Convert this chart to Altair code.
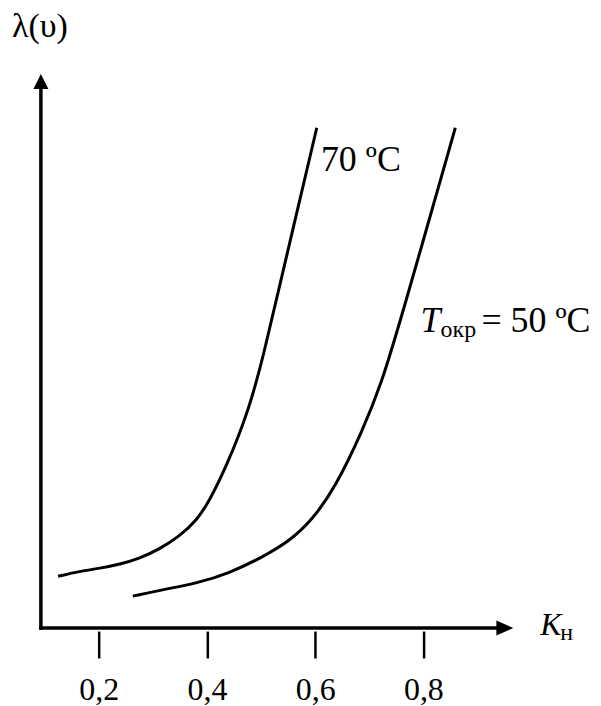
import altair as alt
import pandas as pd

# ---- data ----
# curve for T_окр = 70 ºC
k_70 = [0.125, 0.165, 0.202, 0.239, 0.276, 0.312, 0.349, 0.381, 0.404, 0.436, 0.478, 0.506, 0.528, 0.603]
lam_70 = [0.935, 1.025, 1.079, 1.151, 1.259, 1.421, 1.655, 1.942, 2.284, 2.914, 3.939, 4.982, 5.917, 9.029]
# curve for T_окр = 50 ºC
k_50 = [0.263, 0.322, 0.381, 0.441, 0.502, 0.552, 0.594, 0.638, 0.686, 0.723, 0.758, 0.859]
lam_50 = [0.576, 0.701, 0.809, 0.989, 1.277, 1.565, 1.942, 2.554, 3.525, 4.424, 5.558, 9.029]
x_ticks = [0.2, 0.4, 0.6, 0.8]

# scale extents (data units)
X_MIN, X_MAX = 0.0932, 0.9661
Y_MIN, Y_MAX = 0.0, 10.0

FONT = "Liberation Serif"

curves = pd.concat([
    pd.DataFrame({"k": k_70, "lam": lam_70, "series": "70"}),
    pd.DataFrame({"k": k_50, "lam": lam_50, "series": "50"}),
])

xs = alt.Scale(domain=[X_MIN, X_MAX], nice=False, zero=False)
ys = alt.Scale(domain=[Y_MIN, Y_MAX], nice=False, zero=False)

xaxis = alt.Axis(
    values=x_ticks, domain=False, grid=False, title=None,
    ticks=True, tickSize=27, tickWidth=2.5, tickColor="black", offset=3,
    labelExpr="replace(format(datum.value, '.1f'), '.', ',')",
    labelFont=FONT, labelFontSize=32, labelColor="black",
    labelBaseline="alphabetic", labelPadding=42, labelAlign="center",
    labelFlush=False, labelOverlap=False,
)


def X(field):
    return alt.X(field, type="quantitative", scale=xs, axis=xaxis)


def Y(field):
    return alt.Y(field, type="quantitative", scale=ys, axis=None)


lines = alt.Chart(curves).mark_line(
    color="black", strokeWidth=3, interpolate="basis"
).encode(x=X("k"), y=Y("lam"), detail="series:N")

# axis lines
xline = alt.Chart(pd.DataFrame({"x": [X_MIN], "x2": [0.94], "y": [0.0]})).mark_rule(
    color="black", strokeWidth=3.5, strokeCap="square"
).encode(x=X("x"), x2="x2", y=Y("y"))

yline = alt.Chart(pd.DataFrame({"x": [X_MIN], "y": [0.0], "y2": [9.75]})).mark_rule(
    color="black", strokeWidth=3.5, strokeCap="square"
).encode(x=X("x"), y=Y("y"), y2="y2")

xarrow = alt.Chart(pd.DataFrame({"x": [0.9505], "y": [0.0]})).mark_point(
    shape="M1,0L-1,-0.88L-1,0.88Z", size=289, filled=True, opacity=1,
    color="black", strokeWidth=0
).encode(x=X("x"), y=Y("y"))

yarrow = alt.Chart(pd.DataFrame({"x": [X_MIN], "y": [9.865]})).mark_point(
    shape="M0,-1L-1,1L1,1Z", size=225, filled=True, opacity=1,
    color="black", strokeWidth=0
).encode(x=X("x"), y=Y("y"))


def label(text, x, y, size, style="normal"):
    return alt.Chart(pd.DataFrame({"x": [x], "y": [y], "t": [text]})).mark_text(
        font=FONT, fontSize=size, fontStyle=style, color="black",
        align="left", baseline="alphabetic"
    ).encode(x=X("x"), y=Y("y"), text="t:N")


texts = [
    label("λ(υ)", 0.0398, 10.665, 34),
    label("70 ºC", 0.6107, 8.255, 36),
    label("T", 0.7948, 5.342, 36, "italic"),
    label("окр", 0.8318, 5.252, 24),
    label("= 50 ºC", 0.9072, 5.342, 36),
    label("K", 1.0158, -0.126, 32, "italic"),
    label("н", 1.0527, -0.216, 24),
]

chart = alt.layer(lines, xline, yline, xarrow, yarrow, *texts).properties(
    width=474, height=556,
    autosize=alt.AutoSizeParams(type="none"),
    padding={"left": 33, "top": 65, "right": 80, "bottom": 77},
    background="white",
).configure_view(stroke=None)

chart.save("out.html", embed_options={"renderer": "svg", "actions": False})
